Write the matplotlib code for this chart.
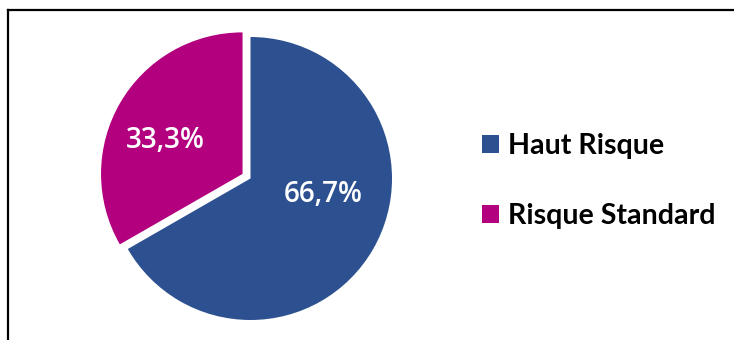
import matplotlib
matplotlib.use("Agg")
import matplotlib.pyplot as plt
from matplotlib.lines import Line2D
from matplotlib.patches import Patch

categories = ["Haut Risque", "Risque Standard"]
values = [66.7, 33.3]
colors = ["#2D5190", "#B3007F"]

W, H = 734, 340
fig = plt.figure(figsize=(W / 100, H / 100), dpi=100)
fig.patch.set_facecolor("white")

R = 141.5
cx, cy = 250.5, 178.5
half = 170.0
ax = fig.add_axes([(cx - half) / W, 0, 2 * half / W, 1])

wedges, texts, autotexts = ax.pie(
    values, colors=colors, startangle=90, counterclock=False,
    explode=[0, 0.065], radius=1, center=(0, 0),
    autopct=lambda p: f"{p:.1f}%".replace(".", ","),
    pctdistance=0.55, frame=False,
    wedgeprops=dict(edgecolor="none"),
    textprops=dict(color="white", fontsize=20, family="Open Sans", weight="semibold"))
autotexts[0].set_position((0.515, -0.11))
autotexts[1].set_position((-0.60, 0.27))
ax.set_xlim(-half / R, half / R)
ax.set_ylim(-(H - cy) / R, cy / R)
ax.set_aspect("equal", adjustable="box")
ax.axis("off")

handles = [Patch(facecolor=c, edgecolor="none") for c in colors]
fig.legend(handles, categories, loc="upper left",
           bbox_to_anchor=(456 / W, 1 - 107 / H), frameon=False,
           handlelength=0.6, handleheight=0.6, handletextpad=0.33,
           labelspacing=1.55, prop=dict(family="Lato", weight="bold", size=20.6))

# frame lines (left and top)
fig.add_artist(Line2D([8 / W, 1], [1 - 10 / H, 1 - 10 / H], color="black", lw=1.6,
                      transform=fig.transFigure))
fig.add_artist(Line2D([8 / W, 8 / W], [0, 1 - 10 / H], color="black", lw=1.6,
                      transform=fig.transFigure))

fig.savefig("out.png", dpi=100)
